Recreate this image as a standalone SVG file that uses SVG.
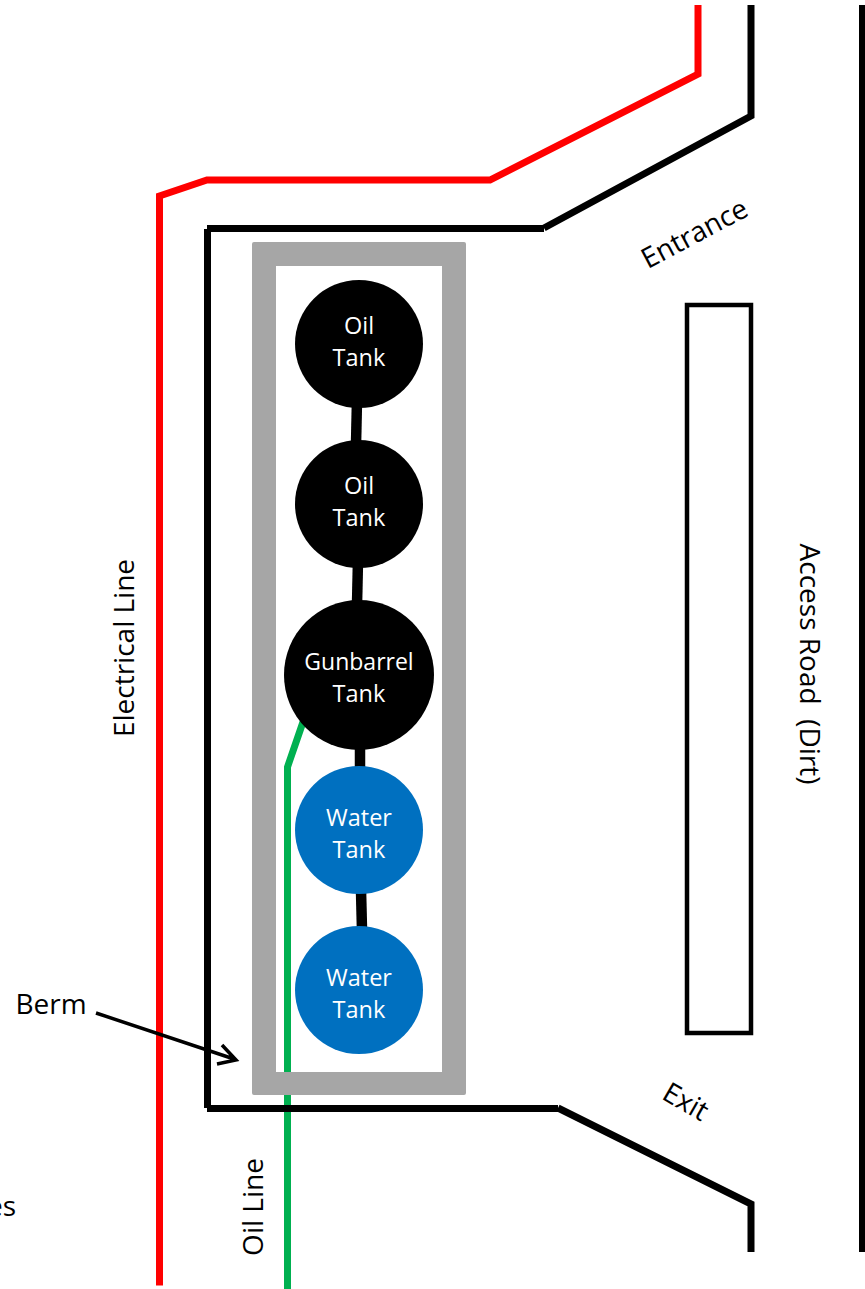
<svg xmlns="http://www.w3.org/2000/svg" width="865" height="1289" viewBox="0 0 865 1289">
<style>
text{font-family:"Open Sans","Noto Sans","Liberation Sans",sans-serif;font-size:28px;fill:#000;text-anchor:middle;white-space:pre}
.w{fill:#fff;font-size:23.5px}
.k{fill:none;stroke:#000;stroke-width:7}
.r{fill:none;stroke:#f00;stroke-width:7}
.g{fill:none;stroke:#00b050;stroke-width:7}
.p{fill:none;stroke:#000;stroke-width:10.5}
.oil{fill:#000}
.water{fill:#0070c0}
</style>
<rect width="865" height="1289" fill="#fff"/>
<g id="electrical-line"><path class="r" d="M698 5V74L490 180H207L159.500 196V1285.500"/></g>
<g id="oil-line"><path class="g" d="M303 722L287.500 767V1289"/></g>
<g id="berm"><path fill="#a6a6a6" fill-rule="evenodd" d="M254 242H464a2 2 0 0 1 2 2V1093a2 2 0 0 1-2 2H254a2 2 0 0 1-2-2V244a2 2 0 0 1 2-2ZM276 266V1072H442V266Z"/></g>
<g id="facility-pad"><path class="k" d="M207.500 229V1108M207 228.500H544M207 1108.500H558"/></g>
<g id="entrance-road"><path class="k" d="M544 228L751 116V5"/></g>
<g id="exit-road"><path class="k" d="M558 1108L751 1204V1252"/></g>
<g id="road-edge"><path class="k" d="M862.500 5V1252"/></g>
<g id="road-median"><rect x="687" y="305" width="64" height="728" fill="#fff" stroke="#000" stroke-width="4.500"/></g>
<g id="connectors">
<path class="p" d="M357 400L356 445"/>
<path class="p" d="M358 560L357 605"/>
<path class="p" d="M360 745V770"/>
<path class="p" d="M361 890L362 930"/>
<path d="M96 1013L234 1059M222 1045L236 1060L217 1064" fill="none" stroke="#000" stroke-width="3.500"/>
</g>
<g id="oil-tank-1"><circle class="oil" cx="359" cy="344" r="64"/><text class="w" x="359" y="334">Oil</text><text class="w" x="359" y="366">Tank</text></g>
<g id="oil-tank-2"><circle class="oil" cx="359" cy="504" r="64"/><text class="w" x="359" y="494">Oil</text><text class="w" x="359" y="526">Tank</text></g>
<g id="gunbarrel-tank"><circle class="oil" cx="359" cy="675" r="75"/><text class="w" style="font-size:23px" x="359" y="670">Gunbarrel</text><text class="w" x="359" y="702">Tank</text></g>
<g id="water-tank-1"><circle class="water" cx="359" cy="830" r="64"/><text class="w" x="359" y="826">Water</text><text class="w" x="359" y="858">Tank</text></g>
<g id="water-tank-2"><circle class="water" cx="359" cy="990" r="64"/><text class="w" x="359" y="986">Water</text><text class="w" x="359" y="1018">Tank</text></g>
<g id="labels">
<text x="51" y="1014">Berm</text>
<text x="16" y="1216" style="text-anchor:end">es</text>
<text transform="translate(134 648) rotate(-90)">Electrical Line</text>
<text transform="translate(263 1207) rotate(-90)">Oil Line</text>
<text transform="translate(800 664) rotate(90)">Access Road  (Dirt)</text>
<text transform="translate(699 242) rotate(-28)">Entrance</text>
<text transform="translate(681 1110) rotate(30)">Exit</text>
</g>
</svg>
